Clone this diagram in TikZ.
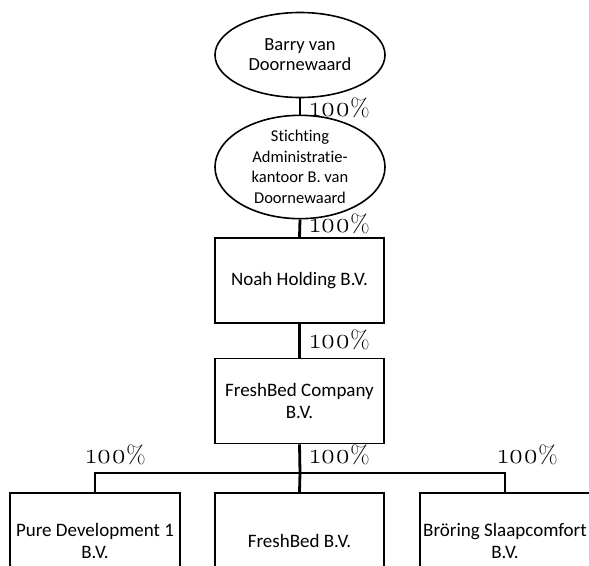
\documentclass[tikz,border=0pt]{standalone}
\usepackage{fontspec}
\setmainfont{Carlito}[Ligatures=NoCommon]
\newfontfamily\lmold{Latin Modern Roman}[Numbers=OldStyle]
\usetikzlibrary{shapes.geometric}
\newcommand\pctlabel{{\lmold\fontsize{28.5}{28}\selectfont 100}{\lmold\fontsize{25}{25}\selectfont\%}}
\tikzset{
  entity/.style={draw=black, line width=1.6pt, fill=white, align=center, inner sep=0pt,
    font=\fontsize{19}{22.5}\selectfont},
  oval/.style={entity, ellipse, minimum width=170pt, minimum height=85pt},
  boxnode/.style={entity, rectangle, minimum width=169pt, minimum height=85pt},
  link/.style={draw=black, line width=2.8pt},
  share/.style={anchor=base west, inner sep=0pt}
}
\begin{document}
\begin{tikzpicture}[x=1pt, y=-1pt]
\clip (0,0) rectangle (589,565);
\fill[white] (0,0) rectangle (589,565);
\node[oval, font=\fontsize{18.5}{20}\selectfont] (e1) at (300,55) {Barry van\\Doornewaard};
\node[oval, minimum height=87pt, font=\fontsize{16.5}{20.5}\selectfont] (e2) at (300,167) {Stichting\\Administratie-\\kantoor B. van\\Doornewaard};
\node[boxnode] (b1) at (299.5,280.5) {Noah Holding B.V.};
\node[boxnode] (b2) at (299.5,401) {FreshBed Company\\B.V.};
\node[boxnode, minimum width=170pt, minimum height=96pt] (c1) at (95,541) {Pure Development 1\\B.V.};
\node[boxnode, minimum width=169pt, minimum height=96pt] (c2) at (299.5,541) {FreshBed B.V.};
\node[boxnode, minimum width=170pt, minimum height=96pt] (c3) at (505,541) {Bröring Slaapcomfort\\B.V.};
\coordinate (j) at (300,473);
\draw[link] (e1.south) -- (e2.north);
\draw[link] (e2.south) -- (b1.north);
\draw[link] (b1.south) -- (b2.north);
\draw[link] (b2.south) -- (j);
\draw[link] (c1.north) |- (j) -| (c3.north);
\draw[link] (j) -- (c2.north);
\node[share] (l1) at (310,116) {\pctlabel};
\node[share] (l2) at (310,232) {\pctlabel};
\node[share] (l3) at (310,348) {\pctlabel};
\node[share] (l4) at (86,463) {\pctlabel};
\node[share] (l5) at (310,463) {\pctlabel};
\node[share] (l6) at (498,463) {\pctlabel};
\end{tikzpicture}
\end{document}
